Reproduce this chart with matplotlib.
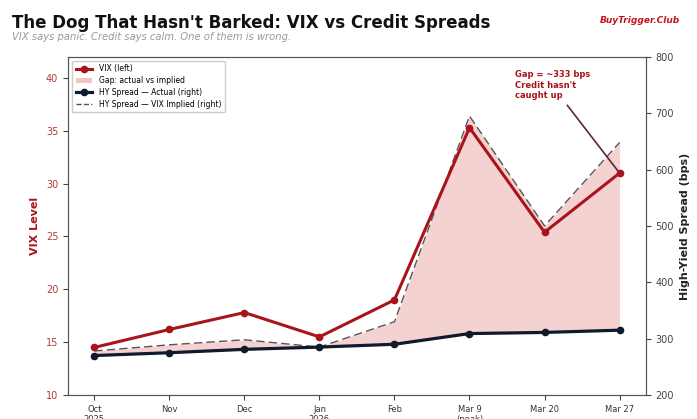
import matplotlib.pyplot as plt
from matplotlib.lines import Line2D
from matplotlib.patches import Patch

labels = ['Oct\n2025', 'Nov', 'Dec', 'Jan\n2026', 'Feb', 'Mar 9\n(peak)', 'Mar 20', 'Mar 27']
vix = [14.5, 16.2, 17.8, 15.5, 19.0, 35.3, 25.4, 31.0]
hy_actual = [270, 275, 281, 285, 290, 309, 311, 315]
hy_implied = [278, 289, 298, 285, 330, 695, 500, 648]

RED = '#a8141c'
NAVY = '#0f1a2c'

fig = plt.figure(figsize=(6.97, 4.19), dpi=100)
ax1 = fig.add_axes([0.0976, 0.0573, 0.829, 0.807])
ax2 = ax1.twinx()
x = list(range(len(labels)))

# 右轴: 信用利差
ax2.fill_between(x, hy_actual, hy_implied, color='#f2c4c4', alpha=0.75, linewidth=0)
ax2.plot(x, hy_implied, color='#555555', linestyle='--', linewidth=1.0, dashes=(6, 3))
ax2.plot(x, hy_actual, color=NAVY, linewidth=2.3, marker='o', markersize=4.5)
ax2.set_ylim(200, 800)
ax2.set_ylabel('High-Yield Spread (bps)', fontsize=8, fontweight='bold', color='#222222')
ax2.tick_params(axis='y', labelsize=7, colors='#444444')

# 左轴: VIX
ax1.set_zorder(ax2.get_zorder() + 1)
ax1.patch.set_visible(False)
ax1.plot(x, vix, color=RED, linewidth=2.2, marker='o', markersize=4.5)
ax1.set_ylim(10, 42)
ax1.set_ylabel('VIX Level', fontsize=8, fontweight='bold', color=RED)
ax1.tick_params(axis='y', labelsize=7, labelcolor='#b03a40', color='#444444')
ax1.set_xticks(x)
ax1.set_xticklabels(labels, fontsize=6, color='#333333')
ax1.tick_params(axis='x', color='#444444')
for ax in (ax1, ax2):
    for s in ax.spines.values():
        s.set_color('#555555')

# 标注
ax1.annotate("Gap = ~333 bps\nCredit hasn't\ncaught up", xy=(7, 31.0), xytext=(5.6, 39.3),
             fontsize=6, fontweight='bold', color=RED, ha='left', va='center',
             arrowprops=dict(arrowstyle='-', color='#5a2a2a', lw=1.2, shrinkA=2, shrinkB=2,
                             relpos=(0.65, 0)))

handles = [
    Line2D([], [], color=RED, linewidth=2.2, marker='o', markersize=4.5),
    Patch(facecolor='#f2c4c4'),
    Line2D([], [], color=NAVY, linewidth=2.3, marker='o', markersize=4.5),
    Line2D([], [], color='#555555', linestyle='--', linewidth=1.0),
]
names = ['VIX (left)', 'Gap: actual vs implied', 'HY Spread \u2014 Actual (right)', 'HY Spread \u2014 VIX Implied (right)']
ax1.legend(handles, names, loc='upper left', fontsize=5.5, frameon=True, framealpha=1,
           edgecolor='#cccccc', borderpad=0.5, labelspacing=0.35, handlelength=2.2)

fig.text(0.017, 0.945, "The Dog That Hasn't Barked: VIX vs Credit Spreads", fontsize=12,
         fontweight='bold', color='#111111', va='center')
fig.text(0.017, 0.912, 'VIX says panic. Credit says calm. One of them is wrong.', fontsize=7.2,
         style='italic', color='#999999', va='center')
fig.text(0.975, 0.95, 'BuyTrigger.Club', fontsize=6.5, fontweight='bold', style='italic',
         color='#c0151b', ha='right', va='center')

fig.savefig('out.png', dpi=100)
